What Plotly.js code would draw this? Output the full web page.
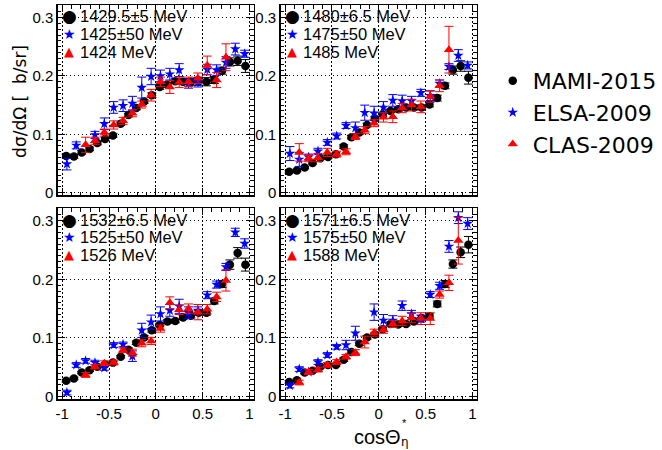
<!DOCTYPE html>
<html>
<head>
<meta charset="utf-8">
<script src="https://cdn.plot.ly/plotly-3.0.1.min.js"></script>
<style>html,body{margin:0;padding:0;background:#fff;}#plot{width:662px;height:450px;}</style>
</head>
<body>
<div id="plot"></div>
<script>
// ---------- data ----------
const cosMAMI = [-0.958,-0.875,-0.792,-0.708,-0.625,-0.542,-0.458,-0.375,-0.292,-0.208,-0.125,-0.042,0.042,0.125,0.208,0.292,0.375,0.458,0.542,0.625,0.708,0.792,0.875,0.958];
const cosELSA = [-0.95,-0.85,-0.75,-0.65,-0.55,-0.45,-0.35,-0.25,-0.15,-0.05,0.05,0.15,0.25,0.35,0.45,0.55,0.65,0.75,0.85,0.95];
const cosCLAS = [-0.85,-0.75,-0.65,-0.55,-0.45,-0.35,-0.25,-0.15,-0.05,0.05,0.15,0.25,0.35,0.45,0.55,0.65,0.75,0.85];

const mami1 = [0.063,0.062,0.069,0.075,0.085,0.092,0.098,0.118,0.133,0.145,0.156,0.167,0.181,0.185,0.191,0.190,0.190,0.191,0.190,0.193,0.209,0.224,0.226,0.217];
const mamiErr1 = [0.003,0.003,0.003,0.003,0.003,0.003,0.003,0.003,0.003,0.003,0.003,0.004,0.004,0.004,0.004,0.005,0.006,0.007,0.007,0.006,0.006,0.007,0.008,0.011];
const mami2 = [0.036,0.038,0.043,0.051,0.059,0.061,0.066,0.079,0.095,0.103,0.116,0.127,0.134,0.140,0.143,0.146,0.146,0.146,0.151,0.162,0.183,0.210,0.217,0.197];
const mamiErr2 = [0.002,0.002,0.002,0.002,0.002,0.002,0.002,0.003,0.003,0.003,0.003,0.003,0.003,0.003,0.003,0.004,0.004,0.004,0.004,0.005,0.005,0.007,0.009,0.011];
const mami3 = [0.027,0.031,0.041,0.045,0.051,0.055,0.058,0.068,0.080,0.092,0.101,0.113,0.122,0.128,0.129,0.135,0.138,0.143,0.143,0.163,0.192,0.225,0.245,0.225];
const mamiErr3 = [0.002,0.002,0.002,0.002,0.002,0.002,0.002,0.002,0.003,0.003,0.003,0.003,0.003,0.003,0.003,0.003,0.004,0.004,0.004,0.005,0.006,0.008,0.009,0.011];
const mami4 = [0.025,0.028,0.041,0.044,0.051,0.054,0.054,0.063,0.076,0.090,0.101,0.106,0.115,0.124,0.123,0.124,0.128,0.134,0.137,0.158,0.192,0.226,0.246,0.259];
const mamiErr4 = [0.002,0.002,0.002,0.002,0.002,0.002,0.002,0.003,0.003,0.003,0.003,0.003,0.003,0.003,0.003,0.003,0.004,0.004,0.004,0.005,0.006,0.007,0.009,0.014];

const elsa1 = [0.049,0.081,null,0.099,0.118,0.146,0.149,0.153,0.180,0.199,0.200,0.203,0.210,0.187,0.189,0.211,0.210,0.223,0.246,0.238];
const elsaErr1 = [0.010,0.006,null,0.006,0.010,0.010,0.010,0.012,0.018,0.014,0.010,0.010,0.011,0.008,0.008,0.009,0.009,0.010,0.010,0.006];
const elsa2 = [0.067,0.057,0.061,0.071,0.086,0.097,0.115,0.111,0.137,0.136,0.146,0.158,0.157,0.157,0.171,0.166,0.187,0.216,0.235,0.218];
const elsaErr2 = [0.012,0.012,0.005,0.005,0.005,0.005,0.005,0.010,0.013,0.012,0.010,0.010,0.010,0.008,0.006,0.008,0.006,0.005,0.010,0.006];
const elsa3 = [0.007,0.054,0.061,0.058,0.049,0.088,0.089,0.069,0.113,0.127,0.141,0.147,0.154,0.143,0.147,0.173,0.191,0.221,0.280,0.261];
const elsaErr3 = [0.004,0.004,0.004,0.004,0.004,0.004,0.004,0.009,0.012,0.012,0.012,0.010,0.012,0.010,0.006,0.006,0.006,0.006,0.007,0.008];
const elsa4 = [0.019,0.047,0.042,0.059,0.071,0.085,0.088,0.108,null,0.144,0.130,0.130,0.155,0.141,0.133,0.174,0.189,0.256,0.305,0.295];
const elsaErr4 = [0.004,0.004,0.004,0.004,0.004,0.004,0.008,0.012,null,0.014,0.010,0.008,0.008,0.006,0.006,0.005,0.006,0.010,0.010,0.010];

const clas1 = [null,0.082,0.089,0.103,0.116,0.123,0.136,0.151,0.167,0.190,0.181,0.189,0.190,0.196,0.218,0.193,0.232,null];
const clasErr1 = [null,0.013,0.006,0.006,0.007,0.006,0.006,0.006,0.010,0.008,0.011,0.009,0.008,0.009,0.016,0.013,0.023,null];
const clas2 = [0.069,0.059,0.060,0.069,0.066,0.070,0.096,0.107,0.119,0.129,0.130,0.145,0.150,0.147,0.165,0.183,0.245,null];
const clasErr2 = [0.015,0.006,0.007,0.007,0.005,0.005,0.005,0.006,0.006,0.008,0.010,0.008,0.010,0.010,0.010,0.010,0.040,null];
const clas3 = [null,0.037,0.051,0.057,0.058,0.079,0.075,0.091,0.095,0.116,0.160,0.148,0.150,0.144,0.149,0.170,0.198,null];
const clasErr3 = [null,0.004,0.004,0.004,0.004,0.004,0.006,0.006,0.006,0.006,0.010,0.008,0.008,0.013,0.008,0.008,0.018,null];
const clas4 = [0.024,0.042,0.046,0.054,0.059,0.068,0.075,0.093,0.109,0.114,0.124,0.129,0.134,0.133,0.133,0.174,0.194,0.266];
const clasErr4 = [0.004,0.004,0.004,0.004,0.004,0.004,0.005,0.010,0.006,0.006,0.006,0.008,0.008,0.010,0.010,0.006,0.013,0.040];

const seriesNames = ['MAMI-2015','ELSA-2009','CLAS-2009'];
const panelLabels = [
  ['1429.5±5 MeV','1425±50 MeV','1424 MeV'],
  ['1480±6.5 MeV','1475±50 MeV','1485 MeV'],
  ['1532±6.5 MeV','1525±50 MeV','1526 MeV'],
  ['1571±6.5 MeV','1575±50 MeV','1588 MeV']
];
const xTickVals = [-1,-0.5,0,0.5,1];
const xTickText = ['-1','-0.5','0','0.5','1'];
const yTickVals = [0,0.1,0.2,0.3];
const yTickText = ['0','0.1','0.2','0.3'];

// ---------- geometry (pixels) ----------
const W = 662, H = 450;
const frames = [ // left, top, right, bottom
  [58,5,255,195],[282,5,479,195],[58,208,255,399],[282,208,479,399]
];
const px = x => x / W;
const py = y => 1 - y / H;

const mamiData = [[mami1,mamiErr1],[mami2,mamiErr2],[mami3,mamiErr3],[mami4,mamiErr4]];
const elsaData = [[elsa1,elsaErr1],[elsa2,elsaErr2],[elsa3,elsaErr3],[elsa4,elsaErr4]];
const clasData = [[clas1,clasErr1],[clas2,clasErr2],[clas3,clasErr3],[clas4,clasErr4]];

const traces = [];
for (let i = 0; i < 4; i++) {
  const xa = i === 0 ? 'x' : 'x' + (i + 1);
  const ya = i === 0 ? 'y' : 'y' + (i + 1);
  traces.push({
    type:'scatter', mode:'markers', x:cosMAMI, y:mamiData[i][0], xaxis:xa, yaxis:ya,
    name:seriesNames[0], legendgroup:'g0', showlegend:i===0,
    marker:{symbol:'circle', size:8.5, color:'black'},
    error_y:{type:'data', array:mamiData[i][1], visible:true, color:'black', thickness:1, width:4.5}
  });
  traces.push({
    type:'scatter', mode:'markers', x:cosELSA, y:elsaData[i][0], xaxis:xa, yaxis:ya,
    name:seriesNames[1], legendgroup:'g1', showlegend:i===0,
    marker:{symbol:'star', size:8, color:'#0000ff'},
    error_y:{type:'data', array:elsaData[i][1], visible:true, color:'#0000ff', thickness:1, width:4.5}
  });
  traces.push({
    type:'scatter', mode:'markers', x:cosCLAS, y:clasData[i][0], xaxis:xa, yaxis:ya,
    name:seriesNames[2], legendgroup:'g2', showlegend:i===0,
    marker:{symbol:'triangle-up', size:9, color:'#ff0000'},
    error_y:{type:'data', array:clasData[i][1], visible:true, color:'#ff0000', thickness:1, width:4.5}
  });
}

const tickFont = {family:'Liberation Sans, Arial, sans-serif', size:15, color:'black'};
const gridDash = '1.5px,2.5px';
function xAxis(i, labels) {
  const f = frames[i];
  return {
    domain:[px(f[0]), px(f[2])], anchor: i === 0 ? 'y' : 'y' + (i + 1),
    range:[-1.048,1.048], tickmode:'array', tickvals:xTickVals, ticktext:xTickText,
    showticklabels:labels, tickfont:tickFont,
    showline:true, linecolor:'black', linewidth:1.5, mirror:'allticks',
    ticks:'inside', ticklen:7, tickwidth:1, tickcolor:'black',
    showgrid:true, gridcolor:'black', griddash:gridDash, gridwidth:1, zeroline:false,
    minor:{tickmode:'linear', tick0:0, dtick:0.1, ticks:'inside', ticklen:3.5, tickcolor:'black', tickwidth:1, showgrid:false},
    fixedrange:true
  };
}
function yAxis(i) {
  const f = frames[i];
  return {
    domain:[py(f[3]), py(f[1])], anchor: i === 0 ? 'x' : 'x' + (i + 1),
    range:[-0.004,0.3215], tickmode:'array', tickvals:yTickVals, ticktext:yTickText,
    showticklabels:true, tickfont:tickFont,
    showline:true, linecolor:'black', linewidth:1.5, mirror:'allticks',
    ticks:'inside', ticklen:7, tickwidth:1, tickcolor:'black',
    showgrid:true, gridcolor:'black', griddash:gridDash, gridwidth:1, zeroline:false,
    minor:{tickmode:'linear', tick0:0, dtick:0.01, ticks:'inside', ticklen:3.5, tickcolor:'black', tickwidth:1, showgrid:false},
    fixedrange:true
  };
}

const annotations = [];
const symChars = ['●','★','▲'];
const symColors = ['black','#0000ff','#ff0000'];
const symSizes = [17,14,13];
const rowOff = [11.5,29,46.5];
for (let i = 0; i < 4; i++) {
  const f = frames[i];
  for (let r = 0; r < 3; r++) {
    annotations.push({xref:'paper', yref:'paper', x:px(f[0]+11.5), y:py(f[1]+rowOff[r]),
      xanchor:'center', yanchor:'middle', showarrow:false, text:symChars[r],
      font:{family:'DejaVu Sans', size:symSizes[r], color:symColors[r]}});
    annotations.push({xref:'paper', yref:'paper', x:px(f[0]+20), y:py(f[1]+rowOff[r]),
      xanchor:'left', yanchor:'middle', showarrow:false, text:panelLabels[i][r],
      font:{family:'Liberation Sans, Arial, sans-serif', size:16.5, color:'black'}});
  }
}
// axis titles
annotations.push({xref:'paper', yref:'paper', x:px(20), y:py(101), xanchor:'center', yanchor:'middle',
  showarrow:false, textangle:-90, text:'dσ/dΩ [  b/sr]',
  font:{family:'DejaVu Sans', size:17, color:'black'}});
annotations.push({xref:'paper', yref:'paper', x:px(379), y:py(437), xanchor:'center', yanchor:'middle',
  showarrow:false, text:'cosΘ', font:{family:'Liberation Sans, Arial, sans-serif', size:20, color:'black'}});
annotations.push({xref:'paper', yref:'paper', x:px(406), y:py(423), xanchor:'center', yanchor:'middle',
  showarrow:false, text:'*', font:{family:'Liberation Sans, Arial, sans-serif', size:11, color:'black'}});
annotations.push({xref:'paper', yref:'paper', x:px(407), y:py(442), xanchor:'center', yanchor:'middle',
  showarrow:false, text:'η', font:{family:'DejaVu Sans', size:12, color:'black'}});

const layout = {
  width:W, height:H, autosize:false,
  margin:{l:0,r:0,t:0,b:0,pad:0},
  paper_bgcolor:'white', plot_bgcolor:'white',
  showlegend:true,
  legend:{x:px(495), y:py(60), xanchor:'left', yanchor:'top', bgcolor:'rgba(0,0,0,0)',
    font:{family:'DejaVu Sans', size:22, color:'black'}, tracegroupgap:0, traceorder:'grouped',
    itemsizing:'trace'},
  annotations:annotations,
  xaxis:xAxis(0,false), yaxis:yAxis(0),
  xaxis2:xAxis(1,false), yaxis2:yAxis(1),
  xaxis3:xAxis(2,true), yaxis3:yAxis(2),
  xaxis4:xAxis(3,true), yaxis4:yAxis(3)
};

Plotly.newPlot('plot', traces, layout, {staticPlot:true, displayModeBar:false});
</script>
</body>
</html>
